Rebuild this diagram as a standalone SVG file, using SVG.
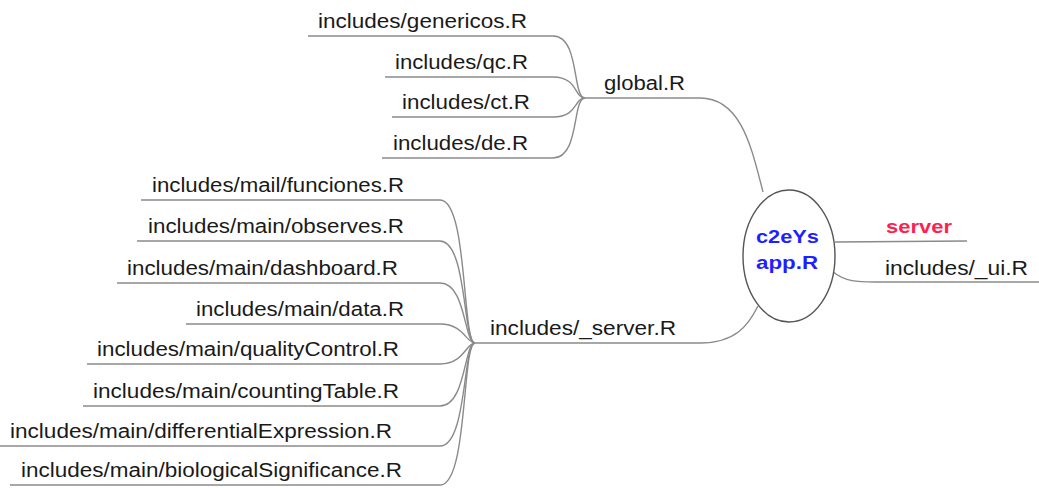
<svg xmlns="http://www.w3.org/2000/svg" width="1039" height="488" viewBox="0 0 1039 488">
  <style>
    .edge { fill: none; stroke: #8a8a8a; stroke-width: 1.4; }
    .lbl { font-family: "Liberation Sans", Arial, sans-serif; font-size: 20px; fill: #1a1a1a; }
    .root { font-family: "Liberation Sans", Arial, sans-serif; font-size: 19px; font-weight: bold; fill: #1f1fff; }
    .hot { font-family: "Liberation Sans", Arial, sans-serif; font-size: 19px; font-weight: bold; fill: #ff1f4f; }
  </style>

  <!-- connectors -->
  <g id="connectors">
    <!-- root to branches -->
    <path class="edge" d="M763,192 C752,150 742,98 700,98 L585,98"/>
    <path class="edge" d="M758,306 C748,326 735,343 700,343 L475,343"/>
    <path class="edge" d="M835,242 L967,241"/>
    <path class="edge" d="M832,271 C845,282 858,282 875,282 L1039,282"/>
    <!-- global.R leaves -->
    <path class="edge" d="M308,36 L553,36 C580,36 572,98 585,98"/>
    <path class="edge" d="M385,77 L553,77 C578,77 574,98 585,98"/>
    <path class="edge" d="M392,117 L553,117 C578,117 574,98 585,98"/>
    <path class="edge" d="M382,158 L553,158 C580,158 572,98 585,98"/>
    <!-- includes/_server.R leaves -->
    <path class="edge" d="M141,200 L440,200 C468,200 462,343 475,343"/>
    <path class="edge" d="M137,241 L440,241 C467,241 463,343 475,343"/>
    <path class="edge" d="M117,283 L440,283 C466,283 464,343 475,343"/>
    <path class="edge" d="M186,324 L440,324 C464,324 466,343 475,343"/>
    <path class="edge" d="M87,364 L440,364 C464,364 466,343 475,343"/>
    <path class="edge" d="M83,406 L440,406 C466,406 464,343 475,343"/>
    <path class="edge" d="M0,446 L440,446 C467,446 463,343 475,343"/>
    <path class="edge" d="M10,485 L440,485 C468,485 462,343 475,343"/>
  </g>

  <!-- root -->
  <g id="app">
    <ellipse cx="789" cy="256" rx="46" ry="66" fill="#ffffff" stroke="#555555" stroke-width="1.4"/>
    <text class="root" x="756" y="243" textLength="63" lengthAdjust="spacingAndGlyphs">c2eYs</text>
    <text class="root" x="756" y="269" textLength="62" lengthAdjust="spacingAndGlyphs">app.R</text>
  </g>

  <g id="server"><text class="hot" x="886" y="233" textLength="66" lengthAdjust="spacingAndGlyphs">server</text></g>
  <g id="ui"><text class="lbl" x="885" y="275" textLength="143" lengthAdjust="spacingAndGlyphs">includes/_ui.R</text></g>

  <g id="global"><text class="lbl" x="604" y="90" textLength="81" lengthAdjust="spacingAndGlyphs">global.R</text></g>
  <g id="genericos"><text class="lbl" x="318" y="28" textLength="209" lengthAdjust="spacingAndGlyphs">includes/genericos.R</text></g>
  <g id="qc"><text class="lbl" x="395" y="69" textLength="133" lengthAdjust="spacingAndGlyphs">includes/qc.R</text></g>
  <g id="ct"><text class="lbl" x="402" y="109" textLength="128" lengthAdjust="spacingAndGlyphs">includes/ct.R</text></g>
  <g id="de"><text class="lbl" x="393" y="150" textLength="135" lengthAdjust="spacingAndGlyphs">includes/de.R</text></g>

  <g id="srv"><text class="lbl" x="490" y="335" textLength="186" lengthAdjust="spacingAndGlyphs">includes/_server.R</text></g>
  <g id="funciones"><text class="lbl" x="152" y="192" textLength="252" lengthAdjust="spacingAndGlyphs">includes/mail/funciones.R</text></g>
  <g id="observes"><text class="lbl" x="148" y="233" textLength="256" lengthAdjust="spacingAndGlyphs">includes/main/observes.R</text></g>
  <g id="dashboard"><text class="lbl" x="127" y="275" textLength="271" lengthAdjust="spacingAndGlyphs">includes/main/dashboard.R</text></g>
  <g id="data"><text class="lbl" x="196" y="316" textLength="208" lengthAdjust="spacingAndGlyphs">includes/main/data.R</text></g>
  <g id="qualityControl"><text class="lbl" x="97" y="356" textLength="302" lengthAdjust="spacingAndGlyphs">includes/main/qualityControl.R</text></g>
  <g id="countingTable"><text class="lbl" x="93" y="398" textLength="306" lengthAdjust="spacingAndGlyphs">includes/main/countingTable.R</text></g>
  <g id="differentialExpression"><text class="lbl" x="10" y="438" textLength="382" lengthAdjust="spacingAndGlyphs">includes/main/differentialExpression.R</text></g>
  <g id="biologicalSignificance"><text class="lbl" x="21" y="477" textLength="381" lengthAdjust="spacingAndGlyphs">includes/main/biologicalSignificance.R</text></g>
</svg>
